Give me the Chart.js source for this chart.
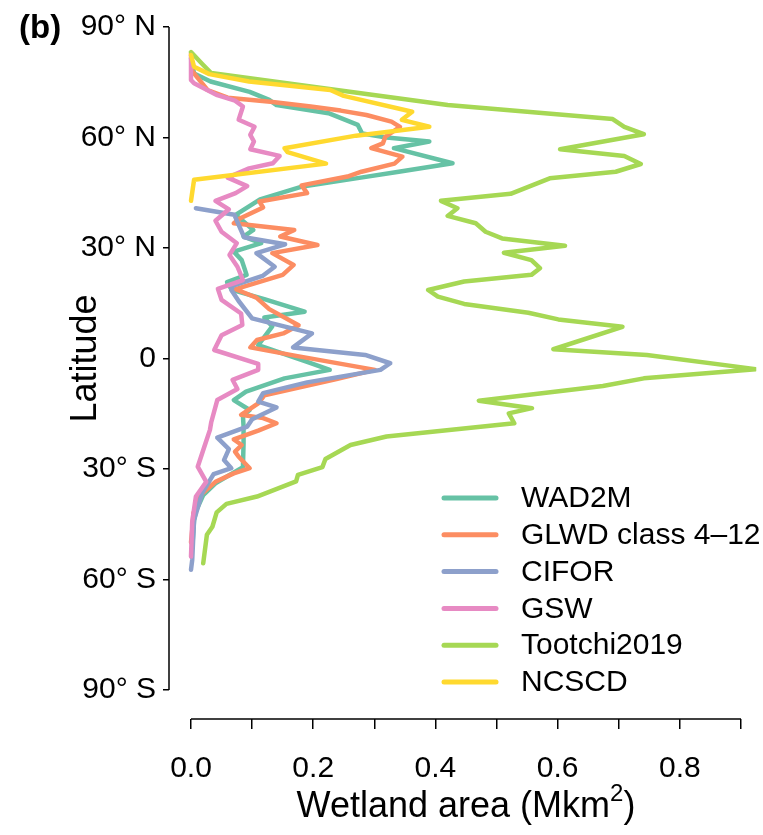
<!DOCTYPE html>
<html>
<head>
<meta charset="utf-8">
<title>Wetland area by latitude</title>
<script src="https://cdn.jsdelivr.net/npm/chart.js@4/dist/chart.umd.min.js"></script>
<style>
  html, body { margin: 0; padding: 0; background: #ffffff; }
  #c { display: block; }
</style>
</head>
<body>
<canvas id="c" width="763" height="835"></canvas>
<script>
// Axis ticks and labels
const latTicks = [-90, -60, -30, 0, 30, 60, 90];
const latLabels = ['90\u00b0 S', '60\u00b0 S', '30\u00b0 S', '0', '30\u00b0 N', '60\u00b0 N', '90\u00b0 N'];
const areaTicks = [0, 0.1, 0.2, 0.3, 0.4, 0.5, 0.6, 0.7, 0.8, 0.9];
const areaTickLabels = ['0.0', '', '0.2', '', '0.4', '', '0.6', '', '0.8', ''];

// Products
const seriesNames = ['WAD2M', 'GLWD class 4\u201312', 'CIFOR', 'GSW', 'Tootchi2019', 'NCSCD'];
const seriesColors = ['#66c2a5', '#fc8d62', '#8da0cb', '#e78ac3', '#a6d854', '#ffd92f'];

// Zonal wetland area (Mkm2) against latitude (degrees, south negative)
const wad2mLat  = [81.5, 77.4, 75.2, 72.4, 70.2, 68.8, 66.6, 63.4, 61.1, 60.0, 58.9, 57.1, 53.0, 50.7, 48.9, 46.6, 43.2, 39.0, 34.9, 33.1, 31.3, 29.0, 26.7, 22.7, 20.7, 18.6, 16.1, 12.7, 11.1, 8.7, 3.6, -0.9, -3.1, -5.4, -9.0, -11.3, -14.0, -15.5, -18.5, -23.0, -29.5, -33.9, -37.1, -41.5, -44.0, -51.5];
const wad2mArea = [0, 0.005, 0.032, 0.096, 0.128, 0.14, 0.225, 0.273, 0.28, 0.32, 0.39, 0.332, 0.428, 0.34, 0.27, 0.18, 0.113, 0.073, 0.102, 0.086, 0.115, 0.07, 0.083, 0.091, 0.059, 0.067, 0.12, 0.186, 0.12, 0.133, 0.11, 0.19, 0.227, 0.153, 0.09, 0.07, 0.096, 0.085, 0.086, 0.086, 0.085, 0.04, 0.02, 0.008, 0.005, 0.002];

const glwdLat  = [82.9, 78.0, 72.9, 70.8, 69.7, 68.4, 67.3, 66.1, 64.3, 62.9, 60.2, 58.4, 57.1, 54.8, 52.9, 50.7, 49.4, 47.0, 44.9, 42.6, 41.0, 38.0, 36.7, 34.9, 33.1, 30.8, 28.6, 25.4, 22.7, 18.8, 16.5, 13.4, 9.0, 6.8, 5.0, 3.0, 0.7, -3.1, -5.6, -10.0, -12.2, -15.3, -16.2, -17.6, -19.6, -22.0, -23.5, -25.3, -26.7, -29.8, -31.2, -33.5, -37.0, -42.0, -46.6, -50.0];
const glwdArea = [0, 0.002, 0.027, 0.06, 0.13, 0.196, 0.245, 0.287, 0.328, 0.342, 0.318, 0.314, 0.295, 0.346, 0.333, 0.279, 0.256, 0.181, 0.19, 0.112, 0.118, 0.08, 0.07, 0.169, 0.146, 0.207, 0.133, 0.168, 0.15, 0.073, 0.107, 0.128, 0.176, 0.151, 0.108, 0.097, 0.172, 0.301, 0.238, 0.12, 0.11, 0.082, 0.118, 0.14, 0.11, 0.07, 0.083, 0.072, 0.078, 0.096, 0.07, 0.04, 0.016, 0.004, 0.002, 0];

const ciforLat  = [40.8, 39.0, 35.5, 32.9, 31.0, 28.6, 24.9, 22.4, 19.8, 18.6, 15.6, 10.9, 6.8, 3.0, 0.95, -1.3, -3.1, -6.5, -9.4, -11.7, -13.3, -16.5, -18.5, -21.5, -24.6, -27.6, -29.8, -31.4, -36.6, -43.9, -54.7, -57.4];
const ciforArea = [0.008, 0.071, 0.08, 0.087, 0.154, 0.107, 0.137, 0.117, 0.069, 0.066, 0.078, 0.1, 0.198, 0.167, 0.285, 0.326, 0.31, 0.19, 0.118, 0.11, 0.14, 0.1, 0.092, 0.043, 0.062, 0.054, 0.066, 0.037, 0.018, 0.005, 0.002, 0];

const gswLat  = [82.4, 75.6, 74.7, 71.5, 70.0, 68.4, 64.8, 62.9, 60.7, 58.9, 56.8, 55.0, 53.0, 51.6, 49.1, 46.8, 44.9, 42.8, 40.5, 37.4, 34.4, 31.3, 28.1, 24.9, 21.3, 18.9, 15.9, 12.2, 9.1, 6.3, 2.3, -1.5, -3.1, -5.8, -8.3, -11.3, -17.4, -19.4, -24.4, -29.4, -33.5, -37.5, -44.3, -53.8];
const gswArea = [0, 0, 0.005, 0.043, 0.072, 0.085, 0.078, 0.104, 0.097, 0.103, 0.097, 0.145, 0.134, 0.095, 0.06, 0.092, 0.073, 0.04, 0.062, 0.04, 0.05, 0.075, 0.063, 0.076, 0.085, 0.044, 0.05, 0.082, 0.084, 0.05, 0.038, 0.11, 0.11, 0.068, 0.076, 0.043, 0.033, 0.031, 0.021, 0.011, 0.025, 0.008, 0.002, 0];

const tootchiLat  = [83.2, 79.7, 77.5, 68.8, 65.0, 62.9, 60.9, 56.8, 55.0, 52.8, 50.7, 48.9, 44.7, 42.8, 40.8, 38.7, 36.7, 34.4, 32.6, 30.6, 28.7, 26.7, 24.5, 22.7, 20.9, 18.6, 16.8, 14.8, 12.4, 10.6, 8.6, 2.5, 0.95, -2.9, -5.4, -7.5, -11.5, -13.5, -14.9, -17.6, -21.2, -23.5, -27.3, -29.5, -31.6, -33.4, -37.5, -39.5, -41.8, -45.7, -47.9, -55.6];
const tootchiArea = [0, 0.02, 0.033, 0.42, 0.69, 0.709, 0.741, 0.604, 0.709, 0.736, 0.695, 0.587, 0.523, 0.409, 0.436, 0.42, 0.466, 0.482, 0.509, 0.612, 0.512, 0.557, 0.571, 0.557, 0.447, 0.388, 0.404, 0.447, 0.552, 0.601, 0.706, 0.593, 0.746, 0.924, 0.741, 0.674, 0.471, 0.558, 0.52, 0.529, 0.32, 0.261, 0.22, 0.215, 0.175, 0.172, 0.108, 0.058, 0.042, 0.035, 0.026, 0.02];

const ncscdLat  = [82.4, 79.2, 77.2, 75.2, 72.9, 71.3, 67.0, 64.8, 62.9, 60.5, 57.1, 56.0, 52.9, 48.5, 42.8];
const ncscdArea = [0, 0.005, 0.03, 0.095, 0.228, 0.25, 0.362, 0.345, 0.39, 0.27, 0.153, 0.158, 0.221, 0.005, 0];

const seriesLat  = [wad2mLat, glwdLat, ciforLat, gswLat, tootchiLat, ncscdLat];
const seriesArea = [wad2mArea, glwdArea, ciforArea, gswArea, tootchiArea, ncscdArea];

const FONT = "'Liberation Sans', Arial, Helvetica, sans-serif";

// Axis lines, axis titles, panel tag and legend
const decorations = {
  id: 'decorations',
  afterDraw(chart) {
    const { ctx, chartArea, scales: { x, y } } = chart;
    ctx.save();
    ctx.strokeStyle = '#000';
    ctx.lineWidth = 1.5;
    ctx.lineCap = 'butt';
    // latitude axis line
    ctx.beginPath();
    ctx.moveTo(chartArea.left, y.getPixelForValue(90));
    ctx.lineTo(chartArea.left, y.getPixelForValue(-90));
    ctx.stroke();
    // area axis line
    ctx.beginPath();
    ctx.moveTo(x.getPixelForValue(0), chartArea.bottom);
    ctx.lineTo(x.getPixelForValue(0.9), chartArea.bottom);
    ctx.stroke();

    ctx.fillStyle = '#000';
    // y title
    ctx.save();
    ctx.translate(86, y.getPixelForValue(0));
    ctx.rotate(-Math.PI / 2);
    ctx.font = '36px ' + FONT;
    ctx.textAlign = 'center';
    ctx.textBaseline = 'middle';
    ctx.fillText('Latitude', 0, 0);
    ctx.restore();

    // x title with superscript
    const cx = (x.getPixelForValue(0) + x.getPixelForValue(0.9)) / 2;
    const ty = 807;
    const main = 'Wetland area (Mkm';
    ctx.font = '36px ' + FONT;
    const wMain = ctx.measureText(main).width;
    const wClose = ctx.measureText(')').width;
    ctx.font = '24px ' + FONT;
    const wSup = ctx.measureText('2').width;
    const total = wMain + wSup + wClose;
    const sx = cx - total / 2;
    ctx.textAlign = 'left';
    ctx.textBaseline = 'middle';
    ctx.font = '36px ' + FONT;
    ctx.fillText(main, sx, ty);
    ctx.font = '24px ' + FONT;
    ctx.fillText('2', sx + wMain, ty - 13);
    ctx.font = '36px ' + FONT;
    ctx.fillText(')', sx + wMain + wSup, ty);

    // panel tag
    ctx.font = 'bold 33px ' + FONT;
    ctx.textAlign = 'left';
    ctx.fillText('(b)', 19, 29);

    // legend
    chart.data.datasets.forEach((ds, i) => {
      const ly = 498 + i * 36.8;
      ctx.strokeStyle = ds.borderColor;
      ctx.lineWidth = 5;
      ctx.lineCap = 'round';
      ctx.beginPath();
      ctx.moveTo(444, ly);
      ctx.lineTo(496, ly);
      ctx.stroke();
      ctx.fillStyle = '#000';
      ctx.font = '30px ' + FONT;
      ctx.textAlign = 'left';
      ctx.textBaseline = 'middle';
      ctx.fillText(ds.label, 521, ly + 1);
    });
    ctx.restore();
  }
};

new Chart(document.getElementById('c'), {
  type: 'scatter',
  data: {
    datasets: seriesNames.map((name, i) => ({
      label: name,
      data: seriesLat[i].map((lat, j) => ({ x: seriesArea[i][j], y: lat })),
      showLine: true,
      borderColor: seriesColors[i],
      backgroundColor: seriesColors[i],
      borderWidth: 4.5,
      pointRadius: 0,
      pointHoverRadius: 0,
      tension: 0,
      borderCapStyle: 'round',
      borderJoinStyle: 'round',
      order: seriesNames.length - i
    }))
  },
  options: {
    responsive: false,
    animation: false,
    events: [],
    layout: { padding: { top: 27, left: 0, right: 0, bottom: 0 } },
    plugins: { legend: { display: false }, tooltip: { enabled: false } },
    scales: {
      x: {
        type: 'linear',
        min: -0.036,
        max: 0.925,
        afterBuildTicks: (s) => { s.ticks = areaTicks.map(v => ({ value: v })); },
        afterFit: (s) => { s.height = 835 - 719; },
        ticks: {
          autoSkip: false,
          maxRotation: 0,
          padding: 22,
          color: '#000',
          font: { family: FONT, size: 30 },
          callback: (v, i) => areaTickLabels[i]
        },
        grid: { drawOnChartArea: false, drawTicks: true, tickLength: 10, color: '#000', lineWidth: 1.5 },
        border: { display: false }
      },
      y: {
        type: 'linear',
        min: -97.9,
        max: 90,
        afterBuildTicks: (s) => { s.ticks = latTicks.map(v => ({ value: v })); },
        afterFit: (s) => { s.width = 169; },
        ticks: {
          autoSkip: false,
          padding: 7,
          color: '#000',
          font: { family: FONT, size: 30 },
          callback: (v, i) => latLabels[i]
        },
        grid: { drawOnChartArea: false, drawTicks: true, tickLength: 6, color: '#000', lineWidth: 1.5 },
        border: { display: false }
      }
    }
  },
  plugins: [decorations]
});
</script>
</body>
</html>
